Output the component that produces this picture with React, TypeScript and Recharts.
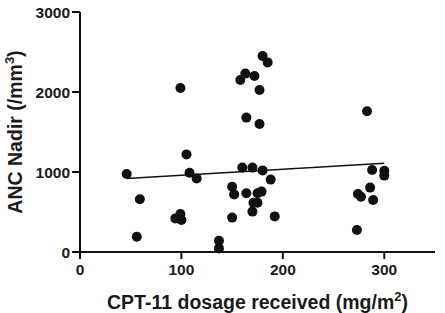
import { ScatterChart, Scatter, XAxis, YAxis, ReferenceLine } from 'recharts';

// CPT-11 dosage (mg/m2) and ANC nadir (/mm3)
const dosage = [
  46, 59, 56, 99, 105, 108, 115, 94, 99, 100, 137, 137, 150, 152, 150, 160, 170, 180, 188, 164,
  175, 179, 171, 175, 170, 192, 158, 163, 172, 177, 164, 177, 180, 185, 283, 274, 277, 286, 289,
  288, 300, 300, 273,
];
const ancNadir = [
  975, 660, 190, 2050, 1220, 990, 920, 420, 475, 400, 140, 45, 815, 720, 430, 1055, 1055, 1020,
  905, 735, 735, 755, 615, 615, 505, 445, 2150, 2230, 2200, 2025, 1680, 1600, 2450, 2370, 1760,
  725, 690, 805, 650, 1025, 1015, 955, 275,
];

// linear fit shown in the figure
const fitX = [46, 300];
const fitY = [920, 1109];

const xTicks = [0, 100, 200, 300];
const yTicks = [0, 1000, 2000, 3000];

const points = dosage.map((x, i) => ({ x, y: ancNadir[i] }));

const FONT = 'Liberation Sans, Arial, Helvetica, sans-serif';
const tickStyle = { fill: '#1a1a1a', fontSize: 15.5, fontWeight: 'bold', fontFamily: FONT };

const YLabel = (props: any) => {
  const { x, y, height } = props.viewBox;
  const cx = x + 22;
  const cy = y + height / 2;
  return (
    <text
      x={cx}
      y={cy}
      transform={`rotate(-90 ${cx} ${cy})`}
      textAnchor="middle"
      fill="#1a1a1a"
      fontSize={19.5}
      fontWeight="bold"
      fontFamily={FONT}
    >
      ANC Nadir (/mm
      <tspan dy={-8} fontSize={13}>3</tspan>
      <tspan dy={8}>)</tspan>
    </text>
  );
};

const XLabel = (props: any) => {
  const { x, y, width } = props.viewBox;
  return (
    <text
      x={x + width / 2}
      y={y + 57}
      textAnchor="middle"
      fill="#1a1a1a"
      fontSize={19.5}
      fontWeight="bold"
      fontFamily={FONT}
    >
      CPT-11 dosage received (mg/m
      <tspan dy={-8} fontSize={13}>2</tspan>
      <tspan dy={8}>)</tspan>
    </text>
  );
};

const Dot = (props: any) => <circle cx={props.cx} cy={props.cy} r={5} fill="#111" />;

export default function App() {
  return (
    <div style={{ position: 'absolute', left: 0, top: 0, background: '#fff' }}>
      <ScatterChart width={445} height={313} margin={{ top: 12, right: 10, left: 0, bottom: 31 }}>
        <XAxis
          type="number"
          dataKey="x"
          domain={[0, 350]}
          ticks={xTicks}
          allowDataOverflow
          height={30}
          tick={tickStyle}
          tickSize={7}
          tickMargin={5}
          axisLine={{ stroke: '#111', strokeWidth: 2 }}
          tickLine={{ stroke: '#111', strokeWidth: 2 }}
          label={{ content: XLabel }}
        />
        <YAxis
          type="number"
          dataKey="y"
          domain={[0, 3000]}
          ticks={yTicks}
          width={80}
          tick={tickStyle}
          tickSize={8}
          tickMargin={2}
          axisLine={{ stroke: '#111', strokeWidth: 2 }}
          tickLine={{ stroke: '#111', strokeWidth: 2 }}
          label={{ content: YLabel }}
        />
        <ReferenceLine
          segment={[
            { x: fitX[0], y: fitY[0] },
            { x: fitX[1], y: fitY[1] },
          ]}
          stroke="#111"
          strokeWidth={1.5}
        />
        <Scatter data={points} shape={Dot} isAnimationActive={false} />
      </ScatterChart>
    </div>
  );
}
